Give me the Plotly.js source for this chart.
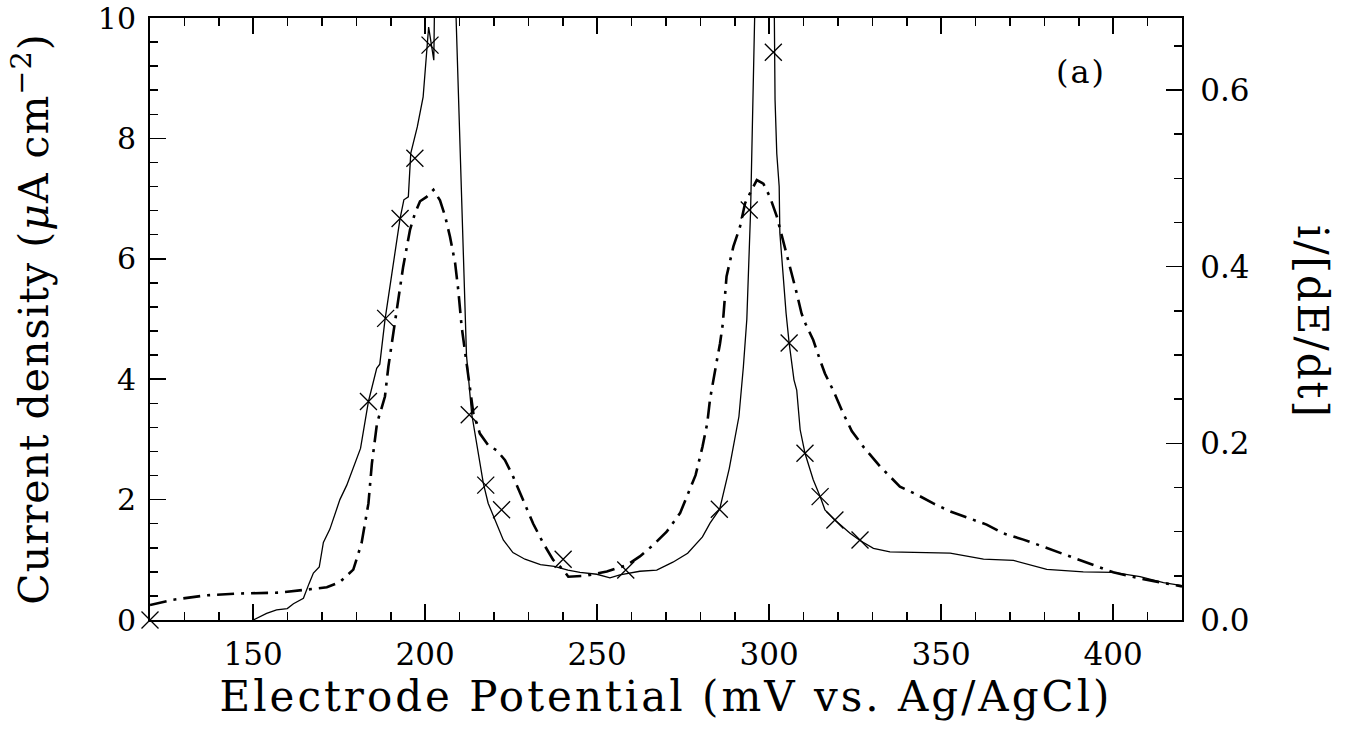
<!DOCTYPE html>
<html>
<head>
<meta charset="utf-8">
<script src="https://cdn.plot.ly/plotly-3.0.1.min.js"></script>
<style>
  html, body { margin: 0; padding: 0; background: #fff; }
  #chart { width: 1354px; height: 729px; }
  .xtitle { letter-spacing: 3px; }
  .ytitle { letter-spacing: 1px; }
  .annotation-text { letter-spacing: 2px; }
</style>
</head>
<body>
<div id="chart"></div>
<script>
// Experimental current density (left axis, µA cm^-2)
const currentX = [150.0,153.9,156.8,159.9,161.7,164.6,166.2,167.5,169.2,170.4,172.3,175.2,177.2,179.6,181.2,183.5,185.9,186.8,188.3,190.3,192.7,193.8,195.1,195.8,197.7,199.4,200.4,201.0,202.5,203.0,207.9,212.0,213.5,216.9,218.3,220.7,222.7,225.5,229.0,233.5,237.5,241.5,245.0,249.9,253.7,256.6,262.4,267.3,272.0,276.3,280.6,282.8,285.6,288.4,291.2,292.5,293.5,294.6,295.2,295.6,296.1,296.5,301.2,301.7,302.2,302.9,303.1,304.9,305.8,307.2,308.0,309.0,310.4,312.8,314.8,316.2,319.1,323.5,326.4,330.3,335.1,342.9,352.6,362.3,371.0,380.7,391.3,400.0,407.8,414.6,420.0];
const currentY = [0.0,0.11,0.17,0.19,0.27,0.36,0.60,0.78,0.88,1.29,1.51,2.00,2.24,2.60,2.85,3.63,4.18,4.25,4.98,5.75,6.67,6.98,7.03,7.75,8.19,8.69,9.47,9.85,9.30,11.5,12.0,4.40,3.43,2.27,1.94,1.61,1.33,1.12,1.01,0.92,0.89,0.83,0.79,0.76,0.70,0.75,0.81,0.83,0.96,1.11,1.38,1.61,1.84,2.52,3.38,4.21,5.00,6.81,8.25,9.19,10.5,12.0,12.0,8.64,7.75,7.20,6.43,5.10,4.60,3.99,3.82,3.16,2.77,2.33,2.05,1.83,1.66,1.44,1.32,1.19,1.13,1.12,1.11,1.01,0.99,0.84,0.80,0.79,0.72,0.62,0.57];

// Model points (crosses, left axis)
const crossX = [120.0,183.5,188.5,192.7,197.0,201.4,212.8,217.6,222.2,240.1,258.3,285.5,294.2,301.2,305.8,310.4,314.8,319.1,326.4];
const crossY = [0.0,3.63,5.01,6.67,7.67,9.55,3.41,2.24,1.83,1.01,0.83,1.84,6.81,9.43,4.60,2.77,2.05,1.66,1.33];

// i/[dE/dt] (right axis)
const rateX = [120.0,126.8,136.5,146.2,157.8,165.6,171.4,175.2,179.1,181.5,183.5,184.5,186.0,187.4,188.3,189.3,190.5,191.7,193.6,195.6,197.0,198.5,200.4,202.4,204.3,205.8,207.2,208.7,209.6,210.6,211.6,212.5,214.0,215.9,218.3,220.8,223.2,225.6,228.5,231.4,234.3,237.2,240.1,241.6,246.5,252.8,258.6,262.4,266.3,270.2,274.1,276.5,278.6,280.6,282.0,282.8,283.3,284.8,285.7,286.5,287.6,289.6,291.5,293.0,294.9,296.4,298.3,300.2,302.2,304.1,306.0,308.0,309.4,310.6,312.8,314.8,316.2,318.6,321.5,324.0,327.4,332.2,338.0,342.9,347.7,352.6,358.4,363.2,368.1,373.9,379.7,384.5,390.3,396.2,400.0,407.8,414.6,420.0];
const rateY = [0.017,0.023,0.028,0.030,0.031,0.034,0.037,0.043,0.057,0.087,0.132,0.177,0.223,0.241,0.253,0.287,0.320,0.347,0.400,0.442,0.460,0.474,0.479,0.487,0.475,0.457,0.434,0.404,0.374,0.332,0.302,0.279,0.234,0.211,0.198,0.192,0.181,0.162,0.136,0.109,0.087,0.068,0.057,0.049,0.050,0.055,0.062,0.072,0.085,0.100,0.121,0.143,0.164,0.196,0.223,0.250,0.262,0.294,0.313,0.335,0.389,0.423,0.445,0.472,0.487,0.498,0.494,0.479,0.457,0.430,0.400,0.370,0.347,0.335,0.317,0.294,0.279,0.260,0.234,0.214,0.196,0.174,0.151,0.142,0.132,0.123,0.115,0.108,0.098,0.091,0.083,0.076,0.068,0.059,0.054,0.047,0.042,0.038];

const xTicks = [150,200,250,300,350,400];
const yTicks = [0,2,4,6,8,10];
const y2Ticks = [0.0,0.2,0.4,0.6];

const FONT = '"DejaVu Serif", "Liberation Serif", serif';

const traces = [
  { x: currentX, y: currentY, mode: 'lines', type: 'scatter', yaxis: 'y',
    line: { color: '#000', width: 1.3 }, showlegend: false, hoverinfo: 'skip' },
  { x: rateX, y: rateY, mode: 'lines', type: 'scatter', yaxis: 'y2',
    line: { color: '#000', width: 2.6, dash: '17px,7px,3px,7px' }, showlegend: false, hoverinfo: 'skip' },
  { x: crossX, y: crossY, mode: 'markers', type: 'scatter', yaxis: 'y',
    marker: { symbol: 'x-thin-open', size: 17, color: '#000', line: { color: '#000', width: 1.3 } },
    showlegend: false, hoverinfo: 'skip', cliponaxis: false }
];

const layout = {
  width: 1354, height: 729,
  margin: { l: 150, r: 172, t: 18, b: 109 },
  paper_bgcolor: '#fff', plot_bgcolor: '#fff',
  font: { family: FONT, color: '#000', size: 30 },
  xaxis: {
    range: [120, 420], tickvals: xTicks, ticktext: xTicks.map(String),
    ticks: 'inside', ticklen: 16, tickwidth: 1.5, tickcolor: '#000',
    minor: { dtick: 10, tick0: 0, ticks: 'inside', ticklen: 8, tickwidth: 1.5, tickcolor: '#000' },
    showline: true, linewidth: 2, linecolor: '#000', mirror: 'ticks',
    showgrid: false, zeroline: false,
    tickfont: { family: FONT, size: 31, color: '#000' }, ticklabelstandoff: 6,
    title: { text: 'Electrode Potential (mV vs. Ag/AgCl)', font: { family: FONT, size: 42, color: '#000' }, standoff: 8 }
  },
  yaxis: {
    range: [0, 10], tickvals: yTicks, ticktext: yTicks.map(String),
    ticks: 'inside', ticklen: 16, tickwidth: 1.5, tickcolor: '#000',
    minor: { dtick: 0.4, tick0: 0, ticks: 'inside', ticklen: 8, tickwidth: 1.5, tickcolor: '#000' },
    showline: true, linewidth: 2, linecolor: '#000', mirror: false,
    showgrid: false, zeroline: false,
    tickfont: { family: FONT, size: 30, color: '#000' }, ticklabelstandoff: 6,
    title: { text: 'Current density (<i>μ</i>A cm<sup>−2</sup>)', font: { family: FONT, size: 41, color: '#000' }, standoff: 36 }
  },
  yaxis2: {
    overlaying: 'y', side: 'right', range: [0, 0.6815],
    tickvals: y2Ticks, ticktext: y2Ticks.map(v => v.toFixed(1)),
    ticks: 'inside', ticklen: 16, tickwidth: 1.5, tickcolor: '#000',
    minor: { dtick: 0.05, tick0: 0, ticks: 'inside', ticklen: 8, tickwidth: 1.5, tickcolor: '#000' },
    showline: true, linewidth: 2, linecolor: '#000',
    showgrid: false, zeroline: false,
    tickfont: { family: FONT, size: 31, color: '#000' }, ticklabelstandoff: 10
  },
  annotations: [
    { text: 'i/[dE/dt]', xref: 'paper', yref: 'paper', x: 1, xshift: 131, y: 0.495,
      xanchor: 'center', yanchor: 'middle',
      textangle: 90, showarrow: false, font: { family: FONT, size: 42, color: '#000' } },
    { text: '(a)', xref: 'paper', yref: 'paper', x: 0.902, y: 0.91,
      xanchor: 'center', yanchor: 'middle', showarrow: false,
      font: { family: FONT, size: 32, color: '#000' } }
  ]
};

Plotly.newPlot('chart', traces, layout, { staticPlot: true, displayModeBar: false });
</script>
</body>
</html>
